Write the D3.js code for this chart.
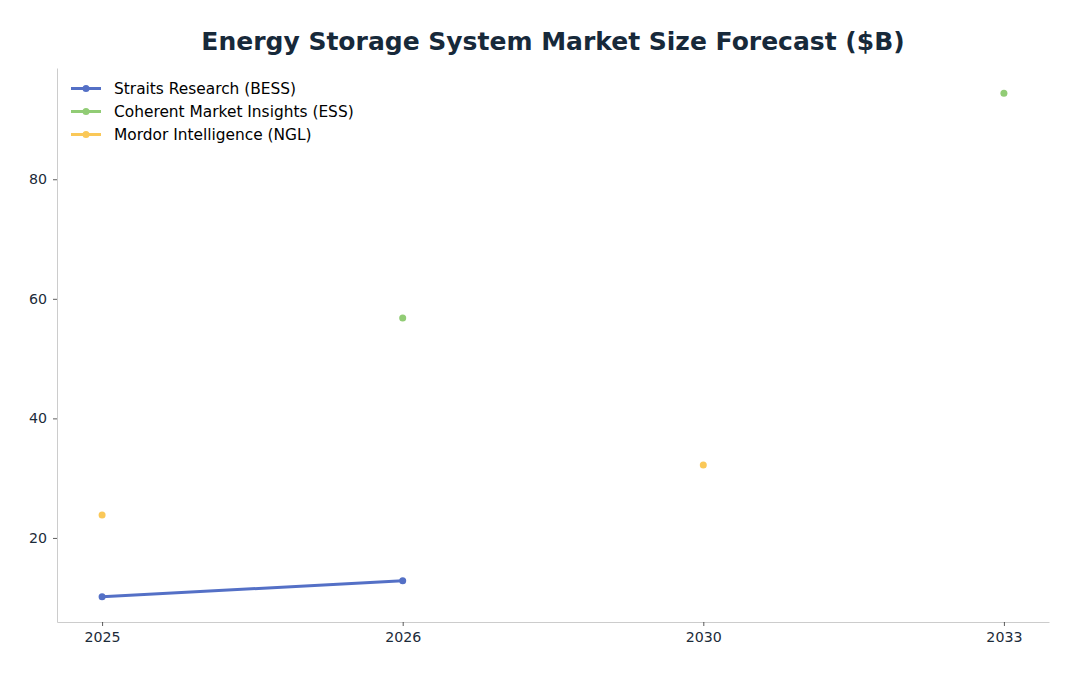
<!DOCTYPE html>
<html>
<head>
<meta charset="utf-8">
<script src="https://cdn.jsdelivr.net/npm/d3@7"></script>
<style>
  body { margin: 0; background: #fff; }
  svg text { font-family: "DejaVu Sans", sans-serif; }
</style>
</head>
<body>
<div id="chart"></div>
<script>
// data
const years = ["2025", "2026", "2030", "2033"];
const straits = [10.15, 12.85, null, null];
const coherent = [null, 56.8, null, 94.4];
const mordor = [23.85, null, 32.2, null];

const seriesNames = ["Straits Research (BESS)", "Coherent Market Insights (ESS)", "Mordor Intelligence (NGL)"];
const seriesColors = ["#5470c6", "#91cc75", "#fac858"];
const yTicks = [20, 40, 60, 80];

const width = 1079, height = 676;
const margin = { top: 68, right: 30, bottom: 54, left: 57 };

const svg = d3.select("#chart")
  .append("svg")
  .attr("width", width)
  .attr("height", height);

// x is categorical but evenly spaced, with 5% padding like matplotlib
const x = d3.scaleLinear()
  .domain([-0.15, years.length - 1 + 0.15])
  .range([margin.left, width - margin.right]);

const allVals = [straits, coherent, mordor].flat().filter(v => v != null);
const lo = d3.min(allVals), hi = d3.max(allVals);
const pad = (hi - lo) * 0.05;
const y = d3.scaleLinear()
  .domain([lo - pad, hi + pad])
  .range([height - margin.bottom, margin.top]);

// title
svg.append("text")
  .attr("x", (margin.left + width - margin.right) / 2)
  .attr("y", 50)
  .attr("text-anchor", "middle")
  .style("font-size", "25px")
  .style("font-weight", "bold")
  .attr("fill", "#17293a")
  .text("Energy Storage System Market Size Forecast ($B)");

// axes
const xAxis = svg.append("g")
  .attr("transform", `translate(0,${height - margin.bottom})`)
  .call(d3.axisBottom(x).tickValues(years.map((d, i) => i)).tickFormat(i => years[i])
    .tickSizeInner(4).tickSizeOuter(0).tickPadding(6));

const yAxis = svg.append("g")
  .attr("transform", `translate(${margin.left},0)`)
  .call(d3.axisLeft(y).tickValues(yTicks).tickSizeInner(4).tickSizeOuter(0).tickPadding(6));

[xAxis, yAxis].forEach(a => {
  a.select(".domain").attr("stroke", "#cccccc").attr("stroke-width", 1);
  a.selectAll(".tick line").attr("stroke", "#333333").attr("stroke-width", 0.8);
  a.selectAll(".tick text")
    .attr("fill", "#1c2b39")
    .style("font-size", "14.2px")
    .style("font-family", "DejaVu Sans, sans-serif");
});

// series
const series = [straits, coherent, mordor];
const line = d3.line()
  .defined(d => d != null)
  .x((d, i) => x(i))
  .y(d => y(d));

const plot = svg.append("g");
series.forEach((vals, s) => {
  plot.append("path")
    .datum(vals)
    .attr("fill", "none")
    .attr("stroke", seriesColors[s])
    .attr("stroke-width", 3)
    .attr("d", line);

  plot.selectAll(null)
    .data(vals.map((v, i) => ({ v, i })).filter(d => d.v != null))
    .join("circle")
    .attr("cx", d => x(d.i))
    .attr("cy", d => y(d.v))
    .attr("r", 3.5)
    .attr("fill", seriesColors[s]);
});

// legend
const legend = svg.append("g").attr("transform", "translate(71,88.5)");
seriesNames.forEach((name, s) => {
  const row = legend.append("g").attr("transform", `translate(0,${s * 23})`);
  row.append("line")
    .attr("x1", 0).attr("x2", 30)
    .attr("stroke", seriesColors[s])
    .attr("stroke-width", 3);
  row.append("circle")
    .attr("cx", 15).attr("r", 3.5)
    .attr("fill", seriesColors[s]);
  row.append("text")
    .attr("x", 43)
    .attr("dy", "0.35em")
    .style("font-size", "15.4px")
    .attr("fill", "#000")
    .text(name);
});
</script>
</body>
</html>
